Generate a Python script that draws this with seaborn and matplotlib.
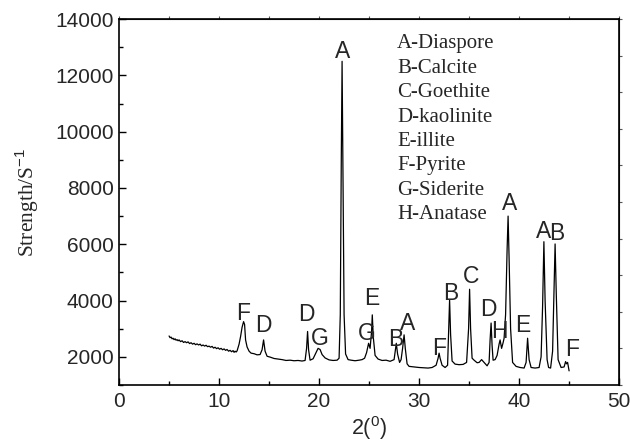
import pandas as pd
import matplotlib.pyplot as plt
import seaborn as sns

# XRD trace (2theta in degrees, counts)
two_theta = [5.0, 5.1, 5.2, 5.3, 5.4, 5.5, 5.6, 5.7, 5.8, 5.9, 6.0, 6.15, 6.3, 6.45, 6.6, 6.75, 6.9,
             7.05, 7.2, 7.35, 7.5, 7.65, 7.8, 7.95, 8.1, 8.25, 8.4, 8.55, 8.7, 8.85, 9.0,
             9.15, 9.3, 9.45, 9.6, 9.75, 9.9, 10.05, 10.2, 10.35, 10.5, 10.65, 10.8, 10.95,
             11.1, 11.25, 11.4, 11.5, 11.6, 11.7, 11.8,
             12.0, 12.15, 12.3, 12.45, 12.55, 12.65, 12.8, 13.0, 13.2, 13.5, 13.8, 14.1,
             14.3, 14.45, 14.6, 14.8, 15.1, 15.5, 15.9, 16.3, 16.7, 17.1, 17.5, 17.9, 18.3,
             18.6, 18.75, 18.85, 18.95, 19.1, 19.4, 19.7, 19.9, 20.1, 20.3, 20.6, 21.0,
             21.4, 21.8, 22.0, 22.12, 22.22, 22.3, 22.38, 22.5, 22.65, 22.9, 23.2, 23.6,
             24.0, 24.3, 24.55, 24.75, 24.95, 25.1, 25.25, 25.32, 25.42, 25.6, 25.9, 26.3,
             26.7, 27.1, 27.5, 27.72, 27.85, 28.05, 28.2, 28.35, 28.5, 28.62, 28.8, 29.0,
             29.5, 30.0, 30.5, 30.9, 31.3, 31.7, 31.9, 32.0, 32.1, 32.3, 32.6, 32.85,
             32.95, 33.05, 33.15, 33.3, 33.6, 34.0, 34.4, 34.75, 34.95, 35.05, 35.15,
             35.3, 35.5, 35.8, 36.0, 36.25, 36.5, 36.8, 37.0, 37.1, 37.2, 37.3, 37.4,
             37.6, 37.8, 38.0, 38.1, 38.25, 38.4, 38.5, 38.65, 38.8, 38.9, 39.0, 39.15,
             39.35, 39.7, 40.1, 40.5, 40.7, 40.85, 41.0, 41.2, 41.6, 42.0, 42.2, 42.35,
             42.48, 42.6, 42.8, 42.95, 43.15, 43.35, 43.48, 43.6, 43.72, 43.9, 44.2,
             44.5, 44.65, 44.75, 44.85, 45.0]
counts = [2740, 2680, 2700, 2640, 2660, 2610, 2640, 2590, 2610, 2570, 2600, 2540, 2570, 2510, 2540, 2500, 2530,
          2470, 2500, 2450, 2480, 2430, 2460, 2420, 2450, 2390, 2420, 2380, 2410, 2360, 2380,
          2340, 2370, 2310, 2340, 2290, 2320, 2270, 2300, 2250, 2280, 2230, 2260, 2200,
          2230, 2180, 2220, 2160, 2200, 2170, 2210,
          2450, 2720, 3050, 3250, 3150, 2600, 2350, 2200, 2130, 2110, 2070, 2080,
          2250, 2600, 2200, 2020, 1990, 1940, 1920, 1900, 1870, 1880, 1860, 1870, 1850,
          1870, 2300, 2900, 2250, 1880, 1930, 2150, 2300, 2260, 2080, 1960, 1890,
          1870, 1880, 1950, 3500, 9000, 12500, 9000, 3500, 2100, 1900, 1880, 1860,
          1880, 1900, 1950, 2150, 2480, 2300, 2900, 3490, 2700, 2050, 1920, 1870,
          1880, 1840, 1900, 2480, 2100, 1800, 1900, 2300, 2780, 2300, 1750, 1660,
          1640, 1620, 1610, 1600, 1620, 1700, 1950, 2130, 1950, 1700, 1620, 1700,
          2800, 4020, 2800, 1850, 1740, 1720, 1730, 1800, 3000, 4400, 3000,
          1950, 1880, 1790, 1800, 1900, 1800, 1680, 1800, 2600, 3200, 2400, 1880,
          1900, 2050, 2450, 2600, 2300, 2500, 2660, 3500, 5800, 7000, 5500, 3000,
          1800, 1660, 1620, 1600, 1800, 2660, 1900, 1620, 1600, 1620, 2000, 3800,
          6090, 4000, 1900, 1620, 1600, 2200, 4200, 6010, 4200, 1900, 1620,
          1640, 1830, 1750, 1800, 1500]

# peak letters and where they sit
peak_labels = ['F', 'D', 'D', 'G', 'A', 'G', 'E', 'B', 'A', 'F', 'B', 'C', 'D', 'H', 'A', 'E', 'A', 'B', 'F']
label_x = [12.37, 14.43, 18.77, 20.1, 22.33, 24.77, 25.27, 27.7, 28.83, 32.03, 33.17, 35.2, 36.95, 38.05,
           39.0, 40.37, 42.4, 43.8, 45.3]
label_y = [3550, 3100, 3490, 2660, 12840, 2840, 4080, 2630, 3170, 2310, 4260, 4850, 3670, 2900,
           7460, 3100, 6450, 6390, 2250]

phases = ['A-Diaspore', 'B-Calcite', 'C-Goethite', 'D-kaolinite', 'E-illite',
          'F-Pyrite', 'G-Siderite', 'H-Anatase']

sns.set_style('ticks')
plt.rcParams['font.family'] = ['Liberation Sans', 'DejaVu Sans']
plt.rcParams['mathtext.fontset'] = 'custom'
plt.rcParams['mathtext.rm'] = 'Liberation Sans'
plt.rcParams['mathtext.it'] = 'Liberation Sans:italic'

fig = plt.figure(figsize=(6.3, 4.44), dpi=100)
ax = fig.add_axes([0.189, 0.133, 0.7937, 0.824])

df = pd.DataFrame({'angle': two_theta, 'counts': counts})
sns.lineplot(data=df, x='angle', y='counts', ax=ax, color='black', linewidth=0.9,
             sort=False, estimator=None)

for lab, x, y in zip(peak_labels, label_x, label_y):
    ax.text(x, y, lab, ha='center', va='center', fontsize=16.5)

for i, name in enumerate(phases):
    ax.text(0.556, 0.932 - i * 0.0667, name, transform=ax.transAxes, ha='left', va='center',
            fontsize=15, family='Liberation Serif')

ax.set_xlim(0, 50)
ax.set_ylim(1000, 14000)
ax.set_xticks(range(0, 51, 10))
ax.set_xticks(range(5, 50, 10), minor=True)
ax.set_yticks(range(2000, 14001, 2000))
ax.set_yticks(range(1000, 14000, 2000), minor=True)
ax.tick_params(which='major', direction='in', length=5, width=1, labelsize=15, color='black')
ax.tick_params(which='minor', direction='in', length=3, width=1, color='black')
ax.tick_params(axis='y', pad=4)
ax.tick_params(axis='x', pad=5)
for s in ax.spines.values():
    s.set_linewidth(1.2)
    s.set_color('black')

top = ax.secondary_xaxis('top')
top.set_xticks(range(0, 51, 5))
top.set_xticklabels([])
top.tick_params(direction='out', length=2.5, width=0.8, color='#555555')

right = ax.secondary_yaxis('right', functions=(lambda y: (y - 1000) / 1300, lambda v: v * 1300 + 1000))
right.set_yticks(range(0, 11))
right.set_yticklabels([])
right.tick_params(direction='out', length=2.5, width=0.8, color='#555555')

ax.set_xlabel('2($^{0}$)', fontsize=15.5, labelpad=2)
ax.set_ylabel('Strength/S$^{-1}$', fontsize=15.5, family='Liberation Serif', labelpad=10)

fig.savefig('out.png', dpi=100)
